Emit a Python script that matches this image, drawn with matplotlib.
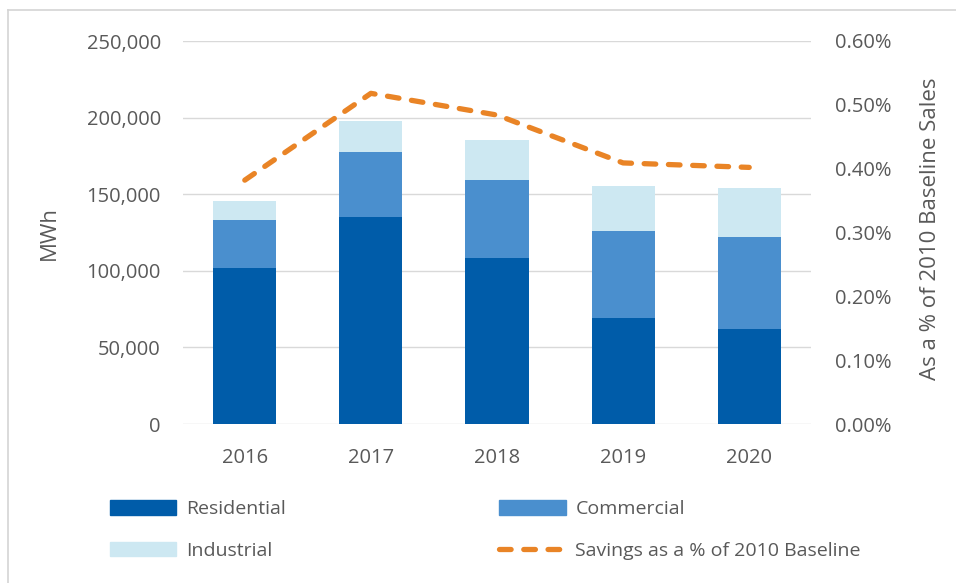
import numpy as np
import matplotlib
matplotlib.use("Agg")
import matplotlib.pyplot as plt
from matplotlib.lines import Line2D
from matplotlib.patches import Patch
from matplotlib.ticker import FuncFormatter, MultipleLocator

years = ["2016", "2017", "2018", "2019", "2020"]
residential = [101600, 135300, 108200, 69400, 62000]
commercial = [31600, 42000, 51300, 56600, 59900]
industrial = [12600, 20700, 25900, 29100, 32400]
savings_pct = [0.382, 0.518, 0.484, 0.409, 0.402]

c_res = "#005CA9"
c_com = "#4A8FCE"
c_ind = "#CDE8F2"
c_line = "#E98426"
c_text = "#595959"
c_grid = "#D9D9D9"

plt.rcParams["font.family"] = ["Open Sans", "DejaVu Sans"]

fig = plt.figure(figsize=(9.56, 5.83), dpi=100)
ax = fig.add_axes([183 / 956, 1 - 424 / 583, 628 / 956, 383 / 583])

x = np.arange(len(years))
res = np.array(residential)
com = np.array(commercial)
ind = np.array(industrial)
ax.bar(x, res, width=0.5, color=c_res, zorder=2)
ax.bar(x, com, width=0.5, bottom=res, color=c_com, zorder=2)
ax.bar(x, ind, width=0.5, bottom=res + com, color=c_ind, zorder=2)

ax.set_xlim(-0.49, 4.49)
ax.set_ylim(0, 250000)
ax.yaxis.set_major_locator(MultipleLocator(50000))
ax.yaxis.set_major_formatter(FuncFormatter(lambda v, p: f"{int(v):,}"))
ax.set_xticks(x)
ax.set_xticklabels(years)
ax.grid(axis="y", color=c_grid, linewidth=1, zorder=0)
ax.set_axisbelow(True)
for s in ax.spines.values():
    s.set_visible(False)
ax.tick_params(axis="both", length=0, labelsize=14.5, colors=c_text)
ax.tick_params(axis="y", pad=16)
ax.tick_params(axis="x", pad=17)
ax.set_ylabel("MWh", fontsize=16, color=c_text)
ax.yaxis.set_label_coords(-0.196, 0.5)

ax2 = ax.twinx()
ax2.plot(x, savings_pct, color=c_line, linewidth=3.8,
         linestyle=(0, (2.2, 2.4)), dash_capstyle="round", zorder=3)
ax2.set_ylim(0, 0.6)
ax2.yaxis.set_major_locator(MultipleLocator(0.1))
ax2.yaxis.set_major_formatter(FuncFormatter(lambda v, p: f"{v:.2f}%"))
for s in ax2.spines.values():
    s.set_visible(False)
ax2.tick_params(axis="y", length=0, labelsize=14.5, colors=c_text, pad=17)
ax2.set_ylabel("As a % of 2010 Baseline Sales", fontsize=16, color=c_text,
               rotation=90)
ax2.yaxis.set_label_coords(1.1736, 0.51)

# legend below the plot, two columns
handles = [
    Patch(color=c_res, label="Residential"),
    Patch(color=c_ind, label="Industrial"),
    Patch(color=c_com, label="Commercial"),
    Line2D([0], [0], color=c_line, linewidth=3.8, linestyle=(0, (2.2, 2.4)),
           dash_capstyle="round", label="Savings as a % of 2010 Baseline"),
]
leg = fig.legend(handles=handles, ncol=2, loc="upper left",
                 bbox_to_anchor=(110 / 956, 1 - 500 / 583),
                 frameon=False, borderpad=0, borderaxespad=0,
                 handlelength=3.4, handleheight=0.8, handletextpad=0.5,
                 columnspacing=11.0, labelspacing=1.2,
                 prop={"size": 14})
for t in leg.get_texts():
    t.set_color(c_text)

# thin frame along the top and left edges
fig.add_artist(Line2D([8 / 956, 8 / 956], [0, 1 - 10 / 583], color="#D4D4D4",
                      linewidth=1.2, transform=fig.transFigure))
fig.add_artist(Line2D([8 / 956, 1], [1 - 10 / 583, 1 - 10 / 583], color="#D4D4D4",
                      linewidth=1.2, transform=fig.transFigure))

fig.savefig("out.png", dpi=100)
